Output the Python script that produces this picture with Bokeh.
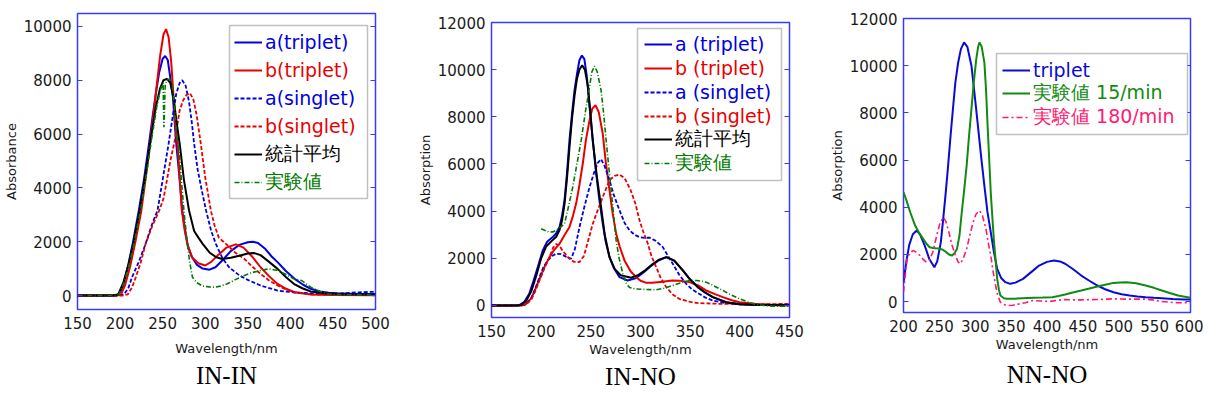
from bokeh.plotting import figure
from bokeh.models import Legend, LegendItem, LinearAxis, FixedTicker, Range1d, Title, BoxAnnotation
from bokeh.layouts import row, column
from bokeh.embed import file_html
from bokeh.resources import INLINE

# ---------------- data: panel IN-IN ----------------
inin_xticks = [150, 200, 250, 300, 350, 400, 450, 500]
inin_yticks = [0, 2000, 4000, 6000, 8000, 10000]

inin_a_trip_x = [150, 190, 197, 203, 206, 210, 215, 222, 228, 234, 238, 242, 246, 250, 253, 256, 259, 262, 264, 266, 270, 273, 276, 279, 284, 290, 297, 305, 312, 320, 330, 340, 350, 356, 362, 370, 378, 385, 395, 405, 415, 424, 435, 445, 460, 480, 500]
inin_a_trip_y = [0, 0, 20, 250, 680, 1200, 1950, 3160, 4300, 5640, 6600, 7500, 8300, 8800, 8900, 8750, 8100, 7400, 6500, 5640, 4300, 3160, 2500, 1920, 1450, 1150, 1000, 960, 1050, 1300, 1650, 1880, 1980, 2000, 1950, 1750, 1450, 1240, 900, 620, 400, 250, 150, 100, 70, 60, 60]

inin_b_trip_x = [150, 195, 201, 206, 212, 218, 225, 232, 238, 243, 247, 251, 254, 257, 260, 263, 265, 267.5, 272.5, 276, 280, 285, 292, 300, 307, 315, 325, 336, 345, 355, 365, 375, 385, 395, 405, 424, 450, 500]
inin_b_trip_y = [0, 0, 30, 400, 1100, 2000, 3160, 4800, 6400, 7800, 8900, 9700, 9900, 9600, 8700, 7300, 6300, 5640, 3160, 2400, 1800, 1400, 1200, 1115, 1250, 1500, 1780, 1900, 1780, 1450, 1050, 720, 430, 250, 124, 40, 20, 10]

inin_a_sing_x = [150, 198, 205, 210, 214, 222, 230, 237, 244, 250, 257, 262, 266, 270, 273, 277, 281, 284, 287, 291, 296, 301, 307, 312.5, 320, 328, 340, 350, 365, 385, 405, 430, 460, 480, 500]
inin_a_sing_y = [0, 0, 50, 300, 680, 1250, 1920, 2600, 3160, 4300, 5640, 6700, 7500, 7900, 8000, 7800, 7200, 6500, 5640, 4700, 3900, 3160, 2400, 1920, 1400, 1050, 750, 580, 370, 185, 110, 70, 80, 120, 140]

inin_b_sing_x = [150, 203, 209, 214, 218.5, 224, 230, 238, 246, 251, 255.7, 259, 263.5, 267, 270, 274, 278, 282, 286, 290, 294.8, 300, 306.6, 311, 316, 322, 326, 335, 346, 355, 365, 375, 385, 395, 405, 424, 450, 500]
inin_b_sing_y = [0, 0, 40, 300, 680, 1200, 1920, 2600, 3160, 3600, 4400, 5000, 5640, 6300, 6880, 7250, 7450, 7520, 7300, 6700, 5640, 4400, 3160, 2600, 2150, 1980, 1870, 1600, 1360, 1080, 805, 560, 370, 220, 124, 40, 20, 10]

inin_avg_x = [150, 192, 198, 204, 210, 216, 223, 230, 236, 242, 247, 251, 255, 259, 263, 267, 270, 275, 281, 287, 292, 297, 305, 313, 320, 330, 340, 350, 357, 365, 375, 385, 395, 404, 414, 424, 440, 460, 500]
inin_avg_y = [0, 0, 50, 500, 1150, 2000, 3160, 4500, 5800, 7000, 7700, 8000, 8050, 7900, 7300, 6300, 5640, 4300, 3160, 2400, 2150, 1920, 1600, 1420, 1360, 1400, 1480, 1560, 1580, 1500, 1250, 990, 680, 434, 270, 150, 80, 50, 40]

inin_exp_x = [150, 193, 199, 205, 211, 217, 224, 231, 237, 243, 247.5, 250.5, 251.5, 253, 255, 258, 261, 264, 267, 268.6, 272, 275, 279, 282, 285, 290, 297, 305, 311, 318, 326, 336, 346, 356, 365, 375, 385, 395, 404, 413, 424, 435, 443.6, 460, 500]
inin_exp_y = [0, 0, 60, 520, 1180, 2020, 3180, 4520, 5800, 7000, 7650, 7900, 6250, 7800, 8000, 8050, 7900, 7000, 5800, 5640, 4300, 3160, 1920, 1200, 680, 480, 350, 320, 310, 350, 434, 600, 745, 860, 930, 990, 930, 780, 620, 560, 310, 150, 62, 30, 20]

# ---------------- data: panel IN-NO ----------------
inno_xticks = [150, 200, 250, 300, 350, 400, 450]
inno_yticks = [0, 2000, 4000, 6000, 8000, 10000, 12000]

inno_a_trip_x = [150, 175, 178, 183, 188, 192, 196.6, 201.6, 206, 211.7, 215, 218.5, 221, 223.5, 226, 228.5, 231, 233.6, 236, 238.5, 241, 243.5, 246, 248.7, 252, 255.4, 258.5, 262, 265, 268.8, 273, 278.9, 287, 295, 303, 310, 318, 326, 334, 342.6, 350, 357.7, 365, 372.8, 386, 400, 420, 450]
inno_a_trip_y = [0, 0, 20, 150, 496, 1000, 1627, 2335, 2700, 2900, 3050, 3325, 3800, 4460, 5600, 7000, 8100, 9130, 9800, 10400, 10600, 10450, 9700, 8420, 7000, 5590, 4500, 3470, 2700, 2050, 1600, 1200, 1060, 1150, 1400, 1650, 1900, 2050, 1900, 1486, 1100, 777, 550, 352, 140, 50, 20, 10]

inno_b_trip_x = [150, 180, 184, 190, 195, 200, 204, 208.4, 213, 218.5, 223, 228.5, 232, 235.2, 238.5, 241.9, 245, 248.7, 251.5, 254.7, 258, 262, 265, 268.8, 272, 275.5, 279, 283.9, 290, 295.7, 300, 306, 312, 320, 332, 340, 349.3, 358, 366, 375, 382.9, 392, 399.7, 416.5, 430, 450]
inno_b_trip_y = [0, 0, 40, 300, 777, 1300, 1700, 2050, 2350, 2620, 2950, 3325, 3800, 4320, 5100, 6020, 7000, 7860, 8350, 8490, 8200, 7290, 6100, 4880, 3900, 3045, 2500, 1910, 1450, 1200, 1050, 960, 960, 1000, 1060, 1050, 990, 850, 637, 480, 352, 220, 140, 65, 40, 30]

inno_a_sing_x = [150, 180, 185, 190, 194, 198.3, 202, 206.7, 211, 215, 220, 225, 230.2, 234, 238.6, 243, 248.7, 253, 257, 260.3, 264, 268.8, 273, 278.9, 284, 289, 294, 299, 304, 309, 315, 322.5, 327, 332.5, 339, 346, 352, 359, 365, 372.8, 386, 400, 420, 450]
inno_a_sing_y = [0, 0, 60, 300, 700, 1200, 1600, 1910, 2100, 2195, 2180, 2070, 1980, 2400, 3325, 4100, 5020, 5600, 6050, 6200, 5900, 5310, 4700, 4030, 3500, 3185, 3000, 2900, 2870, 2875, 2750, 2475, 2150, 1770, 1300, 920, 680, 496, 340, 212, 100, 50, 30, 20]

inno_b_sing_x = [150, 180, 185, 190, 194, 198.3, 203, 208.4, 212, 215, 218, 222, 228, 233, 238.6, 243, 247, 252, 257, 262, 268.8, 274, 278.9, 284, 290, 295, 299, 303, 307.4, 311, 315.8, 320, 325.9, 332, 339, 350, 359, 380, 400, 420, 450]
inno_b_sing_y = [0, 0, 50, 250, 600, 1060, 1550, 2050, 2450, 2600, 2550, 2300, 2000, 1850, 1840, 2100, 2700, 3470, 4050, 4600, 5310, 5500, 5550, 5400, 4900, 4300, 3610, 3100, 2620, 2100, 1627, 1200, 777, 480, 284, 150, 98, 70, 60, 50, 70]

inno_avg_x = [150, 176, 180, 185, 190, 195, 200, 205, 211, 215, 218.5, 221, 223.5, 226, 228.5, 231, 233.6, 236, 238.5, 241.3, 244, 247, 249.5, 251.9, 256, 260.3, 264, 268.8, 274, 280, 290.6, 298, 305, 312, 318, 326, 334, 342.6, 350, 357.7, 365, 372.8, 386, 400, 420, 450]
inno_avg_y = [0, 0, 20, 200, 600, 1250, 2000, 2500, 2750, 2900, 3200, 3600, 4300, 5400, 6700, 7900, 8900, 9600, 10000, 10190, 10000, 9300, 8200, 7000, 5500, 4170, 3000, 2050, 1550, 1280, 1175, 1300, 1500, 1750, 1930, 2050, 1900, 1486, 1100, 777, 550, 352, 140, 50, 20, 10]

inno_exp_x = [200, 204, 208.4, 212, 215, 219, 223.5, 227, 231.8, 236, 240.3, 244.5, 248.7, 251, 253.7, 256.5, 260.3, 263, 265.4, 268, 270.5, 273, 275.5, 278.5, 282.2, 285.5, 289, 295, 305, 315.8, 325, 332.5, 340, 349.3, 357, 366, 374, 382.9, 391, 399.7, 408, 416.5, 425, 433, 450]
inno_exp_y = [3255, 3180, 3110, 3120, 3185, 3300, 3470, 4100, 5020, 6000, 7000, 8200, 9270, 9900, 10150, 9900, 9130, 8100, 7000, 5900, 4880, 3800, 2760, 2000, 1346, 950, 760, 700, 680, 666, 740, 850, 950, 1060, 1060, 990, 830, 637, 450, 284, 150, 42, 0, -30, -30]

# ---------------- data: panel NN-NO ----------------
nnno_xticks = [200, 250, 300, 350, 400, 450, 500, 550, 600]
nnno_yticks = [0, 2000, 4000, 6000, 8000, 10000, 12000]

nnno_trip_x = [200, 204, 208, 213, 218.4, 223, 229.6, 236, 243, 247, 252, 255, 258.9, 262, 265.6, 269, 272.3, 276, 280, 284.4, 289, 294.7, 299, 303.7, 308, 312.7, 317, 321.6, 326, 330.6, 336, 342, 348.6, 356, 366.6, 380.5, 389, 400, 409.7, 418, 425.3, 436, 447.8, 459, 470.3, 481, 492.7, 504, 515.2, 526, 537.6, 549, 560, 575, 591.5, 600]
nnno_trip_y = [800, 1700, 2400, 2850, 3010, 2850, 2370, 1800, 1455, 1700, 2510, 3400, 4630, 5700, 7030, 8200, 9290, 10100, 10700, 10990, 10800, 10000, 8800, 7460, 6200, 4915, 3800, 2940, 2100, 1385, 1000, 820, 750, 800, 960, 1310, 1525, 1680, 1737, 1700, 1600, 1380, 1100, 880, 678, 520, 395, 310, 254, 215, 183, 160, 140, 110, 85, 80]

nnno_15_x = [200, 204, 209.4, 216.2, 222, 227.4, 232, 236.4, 241, 245.4, 250, 254.3, 258, 262, 265, 267.7, 271, 274.5, 278, 281.2, 284.5, 288, 291, 294.7, 298, 301.4, 304, 306, 309, 312.7, 315, 317.2, 319.5, 321.6, 324, 326.2, 328.5, 330.6, 333, 335, 340, 344, 355, 366, 380.5, 394, 407.4, 416, 425.3, 436, 447.8, 459, 470.3, 481, 492.7, 502, 510.7, 524, 537.6, 549, 560, 571, 582.5, 592, 600]
nnno_15_y = [4630, 4300, 3785, 3220, 2900, 2655, 2450, 2300, 2270, 2260, 2250, 2200, 2130, 2030, 1970, 1950, 2050, 2230, 2800, 3785, 4700, 5760, 6900, 8165, 9300, 10280, 10800, 10990, 10800, 10140, 9000, 7460, 6000, 4630, 3500, 2510, 1700, 960, 500, 254, 140, 113, 120, 140, 155, 165, 183, 230, 297, 380, 466, 550, 636, 710, 790, 810, 820, 770, 678, 580, 466, 360, 254, 200, 155]

nnno_180_x = [200, 202, 205, 209, 213.9, 218, 222.9, 227, 231.9, 236, 240.8, 244, 247.5, 251, 255.6, 259, 263.3, 267, 272.3, 276, 279, 283, 288, 292, 297, 301, 306, 310, 314.9, 318, 321.6, 325, 328.4, 331, 335, 340, 344, 352, 360, 370, 380.5, 392, 403, 414, 425, 436, 447.8, 459, 470, 481, 492.7, 504, 515, 526, 537.6, 549, 560, 571, 582.5, 600]
nnno_180_y = [395, 1000, 1810, 2080, 2160, 2080, 1950, 1800, 1665, 1750, 2090, 2500, 2940, 3350, 3570, 3400, 2940, 2450, 1950, 1680, 1600, 1800, 2230, 2750, 3360, 3700, 3855, 3650, 3080, 2500, 1950, 1250, 680, 300, -30, -130, -170, -160, -110, -50, 42, 20, 0, 50, 85, 70, 70, 80, 85, 100, 113, 105, 100, 100, 100, 60, 0, -30, -55, -55]

BLUE = "#0000e0"
RED = "#e80000"
GREEN = "#007a00"
FRAME = "#3a3aff"
FONT = "DejaVu Sans"


def make_panel(fw, fh, lb, rb, tb, bb, xr, yr, xticks, yticks, ylabel, series,
               box, row_h, glyph_off, label_w, title, title_standoff, xlabel_standoff):
    p = figure(frame_width=fw, frame_height=fh, output_backend="svg", toolbar_location=None,
               x_range=Range1d(*xr), y_range=Range1d(*yr),
               min_border_left=lb, min_border_right=rb, min_border_top=tb,
               min_border_bottom=bb)
    p.grid.visible = False
    p.outline_line_color = FRAME
    p.outline_line_width = 1.5

    xa = p.xaxis[0]
    ya = p.yaxis[0]
    xa.ticker = FixedTicker(ticks=xticks)
    ya.ticker = FixedTicker(ticks=yticks)
    for ax in (xa, ya):
        ax.axis_line_color = None
        ax.major_tick_out = 0
        ax.minor_tick_line_color = None
        ax.major_label_text_font = FONT
        ax.major_label_text_font_size = "15px"
        ax.major_label_text_color = "#1a1a1a"
        ax.axis_label_text_font = FONT
        ax.axis_label_text_font_size = "13px"
        ax.axis_label_text_font_style = "normal"
        ax.axis_label_text_color = "#1a1a1a"
    xa.major_tick_line_color = None
    xa.axis_label = "Wavelength/nm"
    xa.major_label_standoff = 7
    xa.axis_label_standoff = xlabel_standoff
    ya.axis_label = ylabel
    ya.major_tick_in = 5
    ya.major_tick_line_color = FRAME
    ya.major_label_standoff = 6
    ya.axis_label_standoff = 2

    ra = LinearAxis(ticker=FixedTicker(ticks=yticks), axis_line_color=None,
                    major_tick_in=5, major_tick_out=0, major_tick_line_color=FRAME,
                    minor_tick_line_color=None, major_label_standoff=0,
                    major_label_overrides={t: "" for t in yticks})
    p.add_layout(ra, "right")

    items = []
    for (label, xs, ys, color, dash, lw, tcolor) in series:
        r = p.line(xs, ys, line_color=color, line_width=lw, line_dash=dash)
        items.append((label, r, tcolor))

    bx, by, bw, bh = box
    n = len(items)
    pad = int((bh - n * row_h) // 2)
    p.add_layout(BoxAnnotation(left=bx, right=bx + bw, bottom=by, top=by + bh,
                               left_units="screen", right_units="screen",
                               bottom_units="screen", top_units="screen",
                               fill_color="white", fill_alpha=1.0,
                               line_color="#333333", line_width=1.5))
    for i, (lab, r, tcolor) in enumerate(items):
        lg = Legend(items=[LegendItem(label=lab, renderers=[r])],
                    location=(bx + glyph_off - pad, by + (n - 1 - i) * row_h),
                    padding=pad, spacing=0, margin=0, label_height=row_h,
                    glyph_height=row_h, glyph_width=28, label_standoff=3,
                    label_width=label_w, label_text_font=FONT,
                    label_text_font_size="19px", label_text_color=tcolor,
                    border_line_alpha=0, background_fill_alpha=0)
        p.add_layout(lg)

    p.add_layout(Title(text=title, align="center", offset=-34, standoff=title_standoff,
                       text_font="Liberation Serif", text_font_size="25px",
                       text_font_style="normal", text_color="black"), "below")
    return p


p1 = make_panel(298, 296, 75, 36, 13, 82, (150, 500), (-520, 10480), inin_xticks, inin_yticks,
                "Absorbance",
                [("a(triplet)", inin_a_trip_x, inin_a_trip_y, BLUE, "solid", 2, BLUE),
                 ("b(triplet)", inin_b_trip_x, inin_b_trip_y, RED, "solid", 2, RED),
                 ("a(singlet)", inin_a_sing_x, inin_a_sing_y, BLUE, "4 2", 1.8, BLUE),
                 ("b(singlet)", inin_b_sing_x, inin_b_sing_y, RED, "4 2", 1.8, RED),
                 ("統計平均", inin_avg_x, inin_avg_y, "black", "solid", 2, "black"),
                 ("実験値", inin_exp_x, inin_exp_y, GREEN, "5 2 1 2", 1.6, GREEN)],
                (152, 111, 138, 173), 28, 5, 95, "IN-IN", 3, 9)

p2 = make_panel(298, 295, 80, 20, 22, 74, (150, 450), (-510, 12000), inno_xticks, inno_yticks,
                "Absorption",
                [("a (triplet)", inno_a_trip_x, inno_a_trip_y, BLUE, "solid", 2, BLUE),
                 ("b (triplet)", inno_b_trip_x, inno_b_trip_y, RED, "solid", 2, RED),
                 ("a (singlet)", inno_a_sing_x, inno_a_sing_y, BLUE, "4 2", 1.8, BLUE),
                 ("b (singlet)", inno_b_sing_x, inno_b_sing_y, RED, "4 2", 1.8, RED),
                 ("統計平均", inno_avg_x, inno_avg_y, "black", "solid", 2, "black"),
                 ("実験値", inno_exp_x, inno_exp_y, GREEN, "5 2 1 2", 1.6, GREEN)],
                (146, 137, 144, 152), 24, 7, 100, "IN-NO", 2, 2)

p3 = make_panel(287, 294, 94, 13, 18, 79, (200, 600), (-466, 12000), nnno_xticks, nnno_yticks,
                "Absorption",
                [("triplet", nnno_trip_x, nnno_trip_y, "#0a0ad8", "solid", 2, "#0a0ad8"),
                 ("実験値 15/min", nnno_15_x, nnno_15_y, "#118a11", "solid", 2, "#118a11"),
                 ("実験値 180/min", nnno_180_x, nnno_180_y, "#ff1a70", "6 3 2 3", 1.6, "#ff1a70")],
                (93, 178, 191, 81), 24, 6, 150, "NN-NO", 9, 2)

layout = row(column(p1), column(p2), column(p3))
open("out.html", "w").write(file_html(layout, INLINE))
